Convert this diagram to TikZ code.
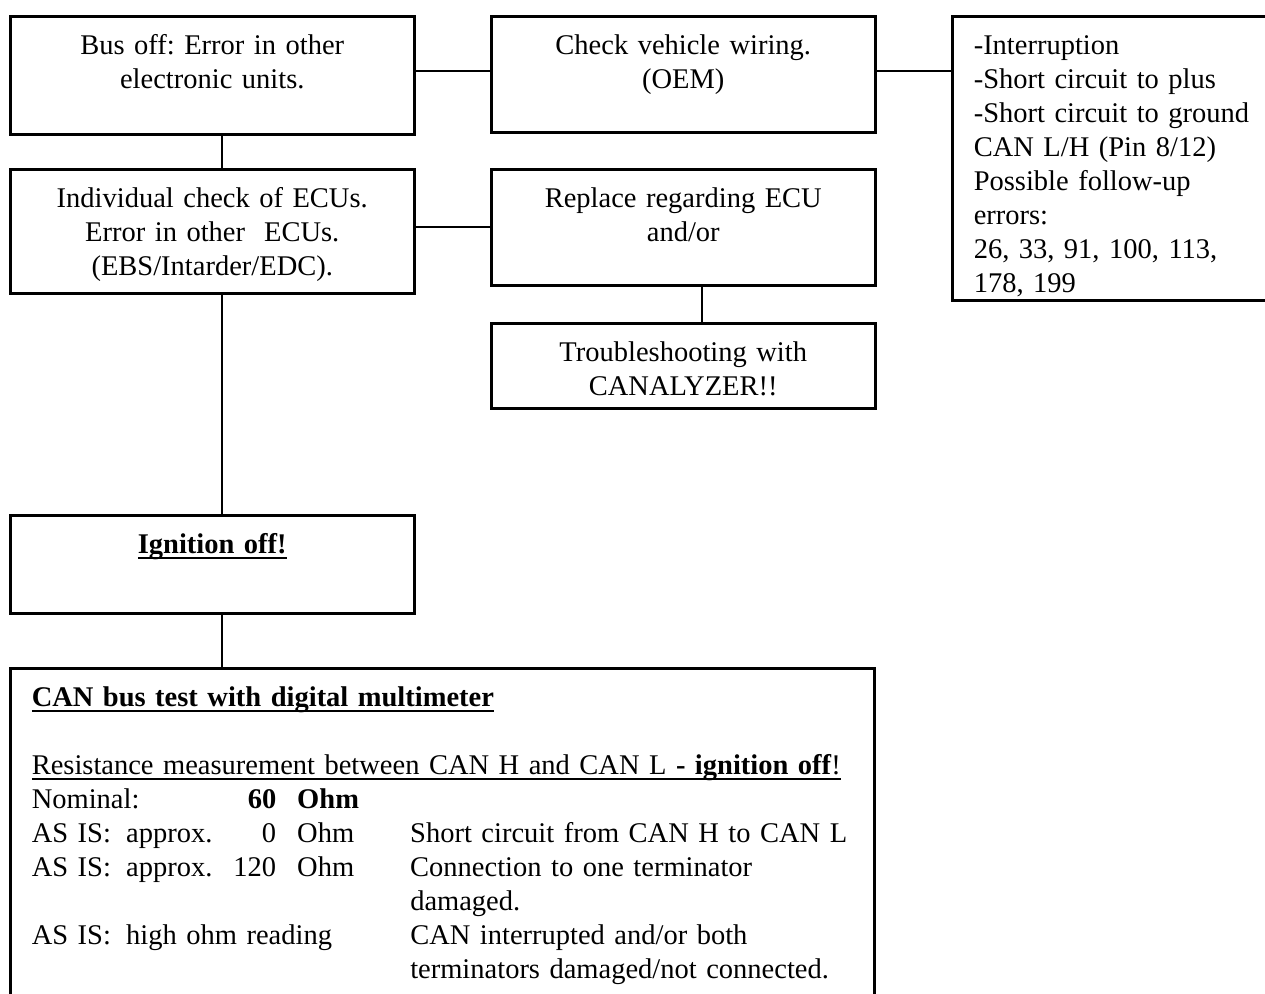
\documentclass[tikz,border=0pt]{standalone}
\usepackage{fontspec}
\setmainfont{Liberation Serif}
\frenchspacing

% underline at a fixed depth below the baseline
\newcommand{\undl}[1]{\leavevmode\setbox0\hbox{#1}\rlap{\rule[-2.4pt]{\wd0}{0.8pt}}\box0}
% place a piece of text at a fixed offset inside a line
\newcommand{\colat}[2]{\makebox[0pt][l]{\hspace*{#1}#2}}

\tikzset{
  stepbox/.style={draw, line width=1pt, anchor=north west, inner xsep=0pt,
    inner ysep=0pt, align=center, text height=15.2pt,
    font=\fontsize{11.4}{13.6}\selectfont},
  listbox/.style={stepbox, align=left, inner xsep=8.6pt},
  wire/.style={line width=0.8pt}
}

\begin{document}
\begin{tikzpicture}[x=0.4pt, y=-0.4pt]
  \useasboundingbox (0,0) rectangle (1265,993);
  \clip (0,0) rectangle (1265,993);
  % left column
  \node[stepbox, text width=161.6pt, text depth=32pt] (busoff) at (9,15)
    {Bus off: Error in other\\electronic units.};
  \node[stepbox, text width=161.6pt, text depth=34.4pt] (ecucheck) at (9,168)
    {Individual check of ECUs.\\Error in other~~ECUs.\\(EBS/Intarder/EDC).};
  \node[stepbox, text width=161.6pt, text depth=24pt] (ignition) at (9,514)
    {\undl{\textbf{Ignition off!}}};
  % middle column
  \node[stepbox, text width=153.6pt, text depth=31.2pt] (wiring) at (490,15)
    {Check vehicle wiring.\\(OEM)};
  \node[stepbox, text width=153.6pt, text depth=31.2pt] (replace) at (490,168)
    {Replace regarding ECU\\and/or};
  \node[stepbox, text width=153.6pt, text depth=18.8pt] (canalyzer) at (490,322)
    {Troubleshooting with\\CANALYZER!!};
  % right column (runs off the page)
  \node[listbox, text width=122.4pt, text depth=98.4pt] (faults) at (951,15)
    {-Interruption\\
     -Short circuit to plus\\
     -Short circuit to ground\\
     CAN L/H (Pin 8/12)\\
     Possible follow-up\\
     errors:\\
     26, 33, 91, 100, 113,\\
     178, 199};
  % multimeter test
  \node[listbox, text width=328.4pt, text depth=126pt] (cantest) at (9,667)
    {\undl{\textbf{CAN bus test with digital multimeter}}\\[13.6pt]
     \undl{Resistance measurement between CAN H and CAN L \textbf{- ignition off}!}\\
     \colat{0pt}{Nominal:}\colat{97.8pt}{\llap{\textbf{60}}}\colat{106.2pt}{\textbf{Ohm}}\\
     \colat{0pt}{AS IS:}\colat{37.8pt}{approx.}\colat{97.8pt}{\llap{0}}\colat{106.2pt}{Ohm}\colat{151.4pt}{Short circuit from CAN H to CAN L}\\
     \colat{0pt}{AS IS:}\colat{37.8pt}{approx.}\colat{97.8pt}{\llap{120}}\colat{106.2pt}{Ohm}\colat{151.4pt}{Connection to one terminator}\\
     \colat{151.4pt}{damaged.}\\
     \colat{0pt}{AS IS:}\colat{37.8pt}{high ohm reading}\colat{151.4pt}{CAN interrupted and/or both}\\
     \colat{151.4pt}{terminators damaged/not connected.}};
  % connectors
  \draw[wire] ([yshift=1.6pt]busoff.east) -- ([yshift=1.6pt]busoff.east -| wiring.west);
  \draw[wire] ([yshift=1.2pt]wiring.east) -- ([yshift=1.2pt]wiring.east -| faults.west);
  \draw[wire] (ecucheck.east |- replace.west) -- (replace.west);
  \draw[wire] ([xshift=7.6pt]replace.south) -- ([xshift=7.6pt]replace.south |- canalyzer.north);
  \draw[wire] ([xshift=4pt]busoff.south) -- ([xshift=4pt]busoff.south |- ecucheck.north);
  \draw[wire] ([xshift=4pt]ecucheck.south) -- ([xshift=4pt]ecucheck.south |- ignition.north);
  \draw[wire] ([xshift=4pt]ignition.south) -- ([xshift=4pt]ignition.south |- cantest.north);
\end{tikzpicture}
\end{document}
